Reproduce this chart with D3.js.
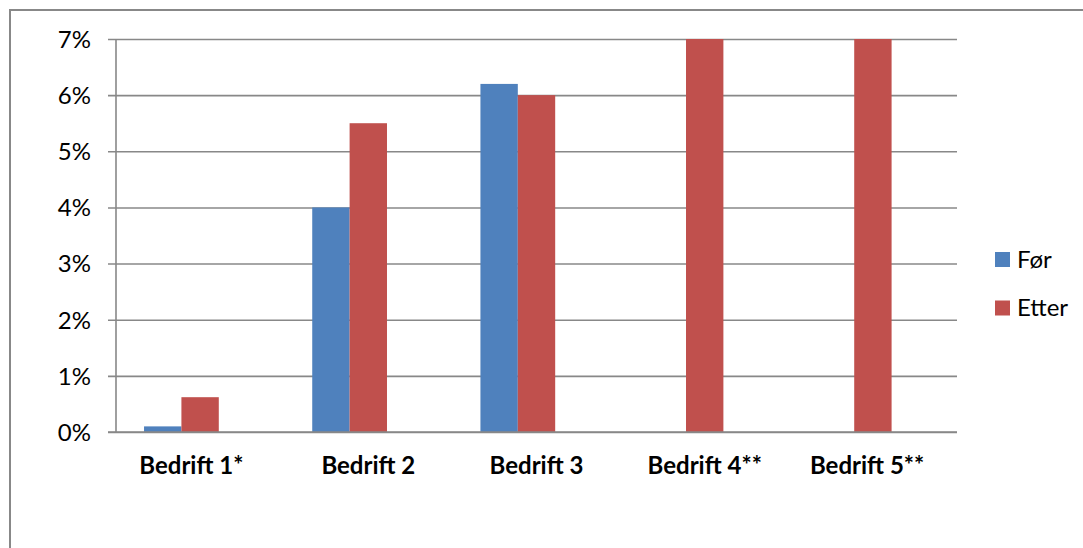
<!DOCTYPE html>
<html>
<head>
<meta charset="utf-8">
<script src="https://cdn.jsdelivr.net/npm/d3@7"></script>
<style>
  html, body { margin: 0; padding: 0; background: #fff; }
  svg { display: block; }
  text { font-family: Lato, Calibri, "Liberation Sans", sans-serif; fill: #000; white-space: pre; }
</style>
</head>
<body>
<svg id="chart" width="1083" height="548"></svg>
<script>
// ---- data ----
const categories = ["Bedrift 1*", "Bedrift 2", "Bedrift 3", "Bedrift 4**", "Bedrift 5**"];
const categoryLabels = ["Bedrift 1*   ", "Bedrift 2", "Bedrift 3", "Bedrift 4**", "Bedrift 5**  "];
const seriesNames = ["Før", "Etter"];
const forValues = [0.001, 0.040, 0.062, null, null];
const etterValues = [0.0062, 0.055, 0.060, 0.070, 0.070];
const yTicks = [0, 0.01, 0.02, 0.03, 0.04, 0.05, 0.06, 0.07];
const colors = ["#4F81BD", "#C0504D"];
const clusterSlots = ["Før", "Etter", "(tom)"]; // Excel cluster with empty third slot

(function () {
const svg = d3.select("#chart");
const gridColor = "#888888";
const fontSize = "24px";

// outer frame
svg.append("rect")
  .attr("x", 10).attr("y", 10).attr("width", 1200).attr("height", 700)
  .attr("fill", "none").attr("stroke", gridColor).attr("stroke-width", 2);

const pLeft = 116, pRight = 957, pTop = 39, pBottom = 432;

const x0 = d3.scaleBand().domain(categories).range([pLeft, pRight]).paddingInner(0).paddingOuter(0);
const x1 = d3.scaleBand().domain(clusterSlots).range([0, x0.bandwidth()]).paddingInner(0).paddingOuter(0.75);
const y = d3.scaleLinear().domain([0, 0.07]).range([pBottom, pTop]);

// gridlines + y axis
const yAxis = d3.axisLeft(y).tickValues(yTicks)
  .tickFormat(d => Math.round(d * 100) + "%")
  .tickSize(-(pRight - pLeft)).tickPadding(0);
const gy = svg.append("g").attr("transform", `translate(${pLeft},0)`).call(yAxis);
gy.select(".domain").remove();
gy.selectAll(".tick line").attr("stroke", gridColor).attr("stroke-width", 1.6).attr("x1", -8);
gy.selectAll(".tick text")
  .attr("x", -25).attr("dy", "0.35em")
  .style("font-size", fontSize).attr("text-anchor", "end");

// bars
const data = categories.map((c, i) => ({ cat: c, vals: [forValues[i], etterValues[i]] }));
const groups = svg.append("g").selectAll("g").data(data).join("g")
  .attr("transform", d => `translate(${x0(d.cat)},0)`);
groups.selectAll("rect")
  .data(d => d.vals.map((v, k) => ({ key: seriesNames[k], v, k })).filter(e => e.v != null))
  .join("rect")
  .attr("x", e => x1(e.key))
  .attr("width", x1.bandwidth())
  .attr("y", e => y(e.v))
  .attr("height", e => y(0) - y(e.v))
  .attr("fill", e => colors[e.k]);

// y axis line
svg.append("line").attr("x1", pLeft).attr("x2", pLeft).attr("y1", pTop).attr("y2", pBottom)
  .attr("stroke", gridColor).attr("stroke-width", 1.6);
// baseline
svg.append("line").attr("x1", pLeft - 8).attr("x2", pRight).attr("y1", pBottom).attr("y2", pBottom)
  .attr("stroke", gridColor).attr("stroke-width", 1.6);

// x labels
const xAxis = d3.axisBottom(x0).tickSize(0).tickPadding(0)
  .tickFormat((d, i) => categoryLabels[i]);
const gx = svg.append("g").attr("transform", `translate(0,${pBottom})`).call(xAxis);
gx.select(".domain").remove();
gx.selectAll(".tick text").attr("y", 42).attr("dy", 0)
  .style("font-size", fontSize).style("font-weight", "bold");

// legend
const legend = svg.append("g").selectAll("g").data(seriesNames).join("g")
  .attr("transform", (d, i) => `translate(995,${252 + i * 48.5})`);
legend.append("rect").attr("width", 15).attr("height", 15).attr("fill", (d, i) => colors[i]);
legend.append("text").attr("x", 22).attr("y", 15.5).text(d => d).style("font-size", fontSize);
})();
</script>
</body>
</html>
